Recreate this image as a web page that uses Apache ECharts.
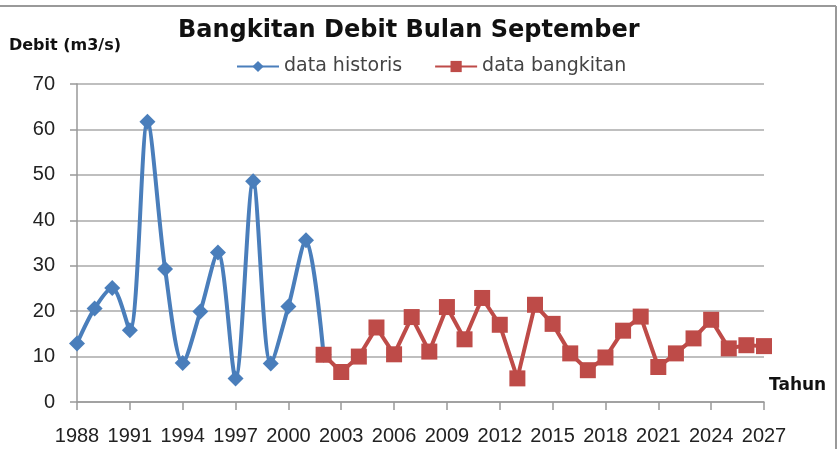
<!DOCTYPE html>
<html>
<head>
<meta charset="utf-8">
<script src="https://cdn.jsdelivr.net/npm/echarts@6/dist/echarts.min.js"></script>
<style>
html,body{margin:0;padding:0;background:#fff;}
#chart{width:840px;height:449px;}
</style>
</head>
<body>
<div id="chart"></div>
<script>
var years = ['1988','1989','1990','1991','1992','1993','1994','1995','1996','1997','1998','1999','2000','2001','2002','2003','2004','2005','2006','2007','2008','2009','2010','2011','2012','2013','2014','2015','2016','2017','2018','2019','2020','2021','2022','2023','2024','2025','2026','2027'];
var dataHistoris = [12.9, 20.6, 25.1, 15.8, 61.7, 29.3, 8.6, 19.9, 32.9, 5.2, 48.6, 8.5, 21.0, 35.6, 10.4,
  null, null, null, null, null, null, null, null, null, null, null, null, null, null, null, null, null, null, null, null, null, null, null, null, null];
var dataBangkitan = [null, null, null, null, null, null, null, null, null, null, null, null, null, null,
  10.4, 6.6, 10.0, 16.4, 10.5, 18.7, 11.1, 20.9, 13.8, 22.9, 17.0, 5.2, 21.4, 17.2, 10.7, 7.0, 9.8, 15.7, 18.8, 7.7, 10.7, 14.0, 18.1, 11.8, 12.5, 12.3];
var yTicks = [0, 10, 20, 30, 40, 50, 60, 70];

var font = 'Liberation Sans';
var wide = 'DejaVu Sans';
var chart = echarts.init(document.getElementById('chart'), null, {renderer: 'canvas'});
chart.setOption({
  animation: false,
  backgroundColor: '#fff',
  title: {
    text: 'Bangkitan Debit Bulan September',
    left: 178, top: 19, padding: 0,
    textStyle: {fontFamily: wide, fontWeight: 'bold', fontSize: 24, color: '#111'}
  },
  legend: {
    top: 52, left: 231, itemGap: 32, itemWidth: 42, itemHeight: 14,
    textStyle: {fontFamily: wide, fontSize: 19, color: '#444'},
    data: ['data historis', 'data bangkitan']
  },
  grid: {left: 77, right: 76, top: 84, bottom: 47, containLabel: false},
  xAxis: {
    type: 'category', data: years, boundaryGap: false,
    name: 'Tahun', nameLocation: 'end', nameGap: 5,
    nameTextStyle: {fontFamily: wide, fontWeight: 'bold', fontSize: 17, color: '#111', verticalAlign: 'bottom', align: 'left', padding: [0, 0, 8, 0]},
    axisLine: {lineStyle: {color: '#999', width: 1.5}},
    axisTick: {show: true, interval: 2, length: 8, lineStyle: {color: '#999', width: 1.5}},
    axisLabel: {interval: 2, margin: 24, fontFamily: font, fontSize: 20, color: '#222'},
    splitLine: {show: false}
  },
  yAxis: {
    type: 'value', min: yTicks[0], max: yTicks[yTicks.length - 1], interval: 10,
    name: 'Debit (m3/s)', nameLocation: 'end', nameGap: 30,
    nameTextStyle: {fontFamily: wide, fontWeight: 'bold', fontSize: 16, color: '#111', align: 'center', padding: [0, 0, 0, -24]},
    axisLine: {show: true, lineStyle: {color: '#999', width: 1.5}},
    axisTick: {show: true, length: 7, lineStyle: {color: '#999', width: 1.5}},
    axisLabel: {margin: 22, fontFamily: font, fontSize: 20, color: '#222'},
    splitLine: {show: true, lineStyle: {color: '#aaa', width: 1.5}}
  },
  graphic: [
    {type: 'line', shape: {x1: 0, y1: 6, x2: 836, y2: 6}, style: {stroke: '#999', lineWidth: 2}},
    {type: 'line', shape: {x1: 836, y1: 6, x2: 836, y2: 449}, style: {stroke: '#999', lineWidth: 2}}
  ],
  series: [
    {
      name: 'data historis', type: 'line', data: dataHistoris, smooth: 0.3, connectNulls: false,
      symbol: 'diamond', symbolSize: 16, showAllSymbol: true, z: 2,
      lineStyle: {color: '#4A7EBB', width: 4},
      itemStyle: {color: '#4A7EBB'}
    },
    {
      name: 'data bangkitan', type: 'line', data: dataBangkitan, smooth: false,
      symbol: 'rect', symbolSize: 16, showAllSymbol: true, z: 3,
      lineStyle: {color: '#BE4B48', width: 4},
      itemStyle: {color: '#BE4B48'}
    }
  ]
});
</script>
</body>
</html>
